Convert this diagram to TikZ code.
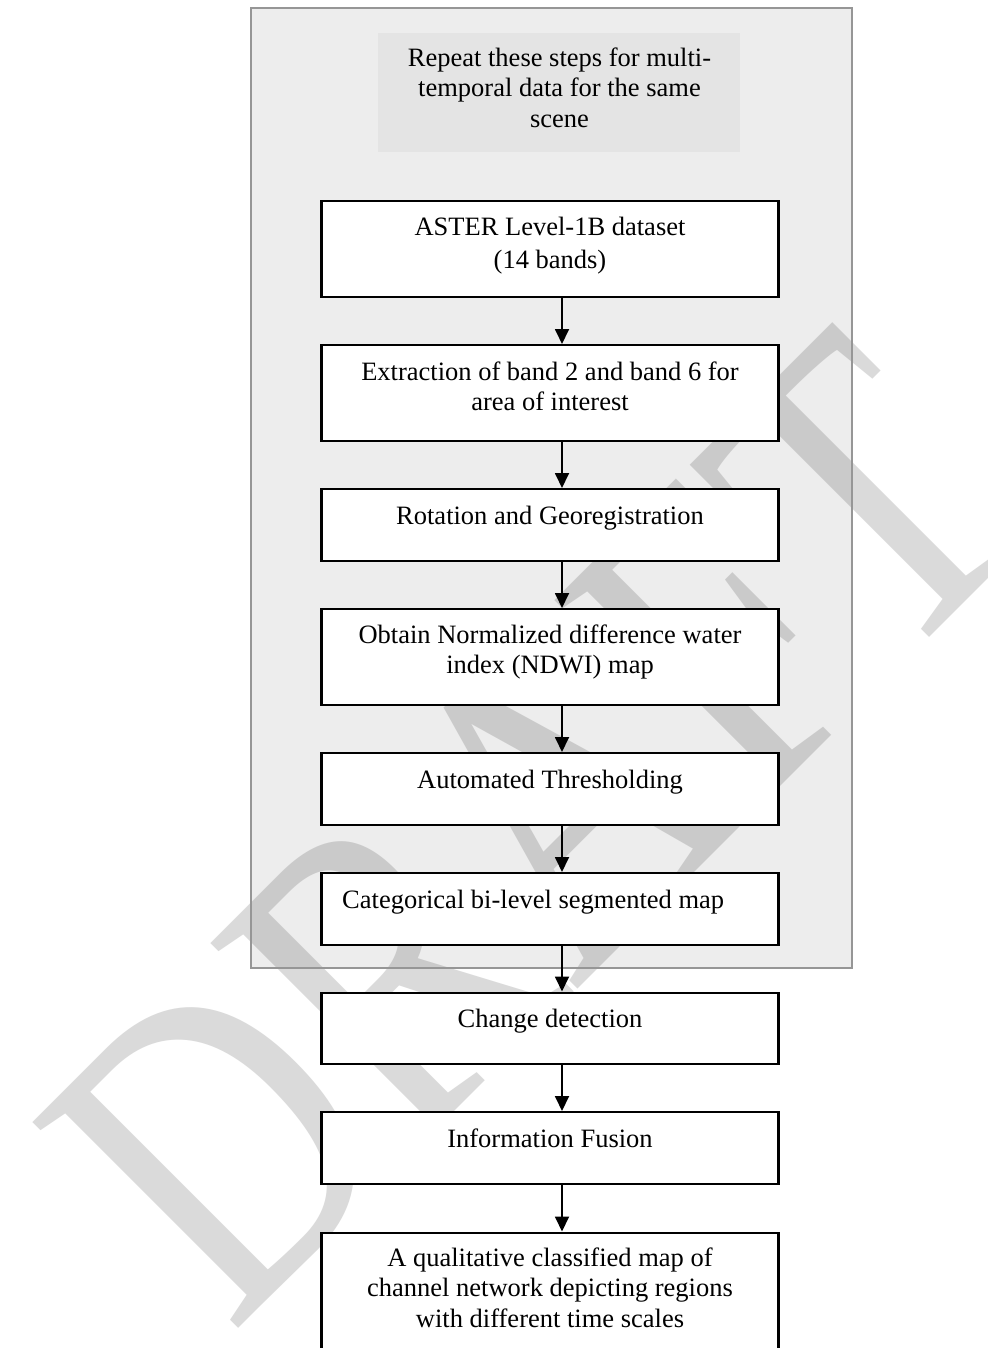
\documentclass[tikz,border=0pt]{standalone}
\usepackage{fontspec}
\setmainfont{Liberation Serif}
\usetikzlibrary{arrows.meta}
\definecolor{labelgray}{RGB}{228,228,228}
\definecolor{framegray}{RGB}{150,150,150}
\definecolor{wmgray}{RGB}{218,218,218}
\newcommand\boxfont{\fontsize{26.5}{30.5}\selectfont}
\newcommand\wmfont{\fontsize{350}{350}\selectfont}
\begin{document}
\begin{tikzpicture}[x=1pt,y=-1pt,
  flowbox/.style={draw=black, line width=2.2pt, fill=white, minimum width=457pt, anchor=north, inner sep=0pt},
  txt/.style={font=\boxfont, align=center, inner sep=0pt, anchor=base},
  arr/.style={line width=1.8pt, -{Triangle[length=15pt,width=14pt]}},
  wm/.style={font=\wmfont, text=wmgray, rotate=45, yscale=1.27, inner sep=0pt}]
\useasboundingbox (0,0) rectangle (987,1348);
\clip (0,0) rectangle (987,1348);
\fill[white] (0,0) rectangle (987,1348);
% watermark (behind the white boxes, seen through the grey frame)
\node[wm] (draft) at (533.5,826.5) {DRAFT};
% outer repeat frame
\node[draw=framegray, line width=2pt, fill=black, fill opacity=0.07, minimum width=601pt, minimum height=959pt, anchor=north west, inner sep=0pt] (outer) at (249.5,7.5) {};
\node[fill=labelgray, minimum width=362pt, minimum height=119pt, inner sep=0pt] (lbl) at (559,92.2) {};
% multi-line text nodes: base anchor = baseline of the last line
\node[txt] (lbltxt) at (559.5,127.3) {Repeat these steps for multi-\\temporal data for the same\\scene};
% boxes
\node[flowbox, minimum height=96pt] (b1) at (550,200) {};
\node[txt] (t1) at (550,268.5) {ASTER Level-1B dataset\\[2pt](14 bands)};
\node[flowbox, minimum height=96pt] (b2) at (550,344) {};
\node[txt] (t2) at (550,410.5) {Extraction of band 2 and band 6 for\\area of interest};
\node[flowbox, minimum height=72pt] (b3) at (550,488) {};
\node[txt] (t3) at (550,524) {Rotation and Georegistration};
\node[flowbox, minimum height=96pt] (b4) at (550,608) {};
\node[txt] (t4) at (550,673.5) {Obtain Normalized difference water\\index (NDWI) map};
\node[flowbox, minimum height=72pt] (b5) at (550,752) {};
\node[txt] (t5) at (550,788) {Automated Thresholding};
\node[flowbox, minimum height=71.5pt] (b6) at (550,872) {};
\node[txt, anchor=base west] (t6) at (342,908) {Categorical bi-level segmented map};
\node[flowbox, minimum height=71.5pt] (b7) at (550,991.5) {};
\node[txt] (t7) at (550,1027.5) {Change detection};
\node[flowbox, minimum height=71.5pt] (b8) at (550,1111) {};
\node[txt] (t8) at (550,1147) {Information Fusion};
\node[flowbox, minimum height=140pt] (b9) at (550,1231.5) {};
\node[txt] (t9) at (550,1327) {A qualitative classified map of\\channel network depicting regions\\with different time scales};
% arrows
\coordinate (ax) at (562,0);
\draw[arr] (b1.south -| ax) -- (b2.north -| ax);
\draw[arr] (b2.south -| ax) -- (b3.north -| ax);
\draw[arr] (b3.south -| ax) -- (b4.north -| ax);
\draw[arr] (b4.south -| ax) -- (b5.north -| ax);
\draw[arr] (b5.south -| ax) -- (b6.north -| ax);
\draw[arr] (b6.south -| ax) -- (b7.north -| ax);
\draw[arr] (b7.south -| ax) -- (b8.north -| ax);
\draw[arr] (b8.south -| ax) -- (b9.north -| ax);
\end{tikzpicture}
\end{document}
